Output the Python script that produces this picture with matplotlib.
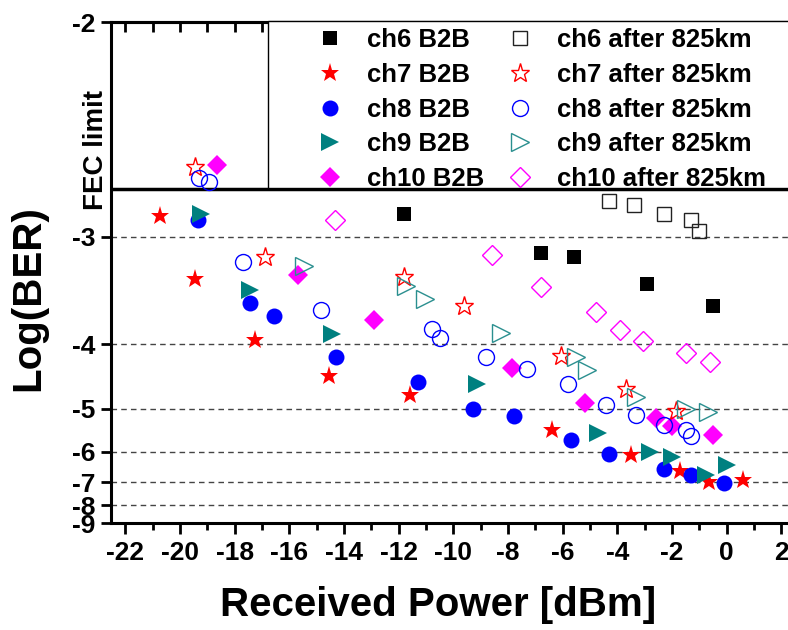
import numpy as np
import matplotlib
matplotlib.use('Agg')
import matplotlib.pyplot as plt
from matplotlib.patches import Rectangle
from matplotlib.ticker import NullLocator

plt.rcParams['font.family'] = ['Liberation Sans', 'DejaVu Sans']
plt.rcParams['font.weight'] = 'bold'
plt.rcParams['axes.unicode_minus'] = False

# received power [dBm] and log(BER)
ch6_b2b_x = [-11.8, -6.8, -5.6, -2.9, -0.5]
ch6_b2b_y = [-2.85, -3.12, -3.15, -3.37, -3.58]
ch6_fib_x = [-4.3, -3.4, -2.3, -1.3, -1.0]
ch6_fib_y = [-2.77, -2.79, -2.85, -2.89, -2.96]

ch7_b2b_x = [-20.75, -19.45, -17.25, -14.55, -11.6, -6.4, -3.5, -1.7, -0.65, 0.6]
ch7_b2b_y = [-2.86, -3.33, -3.95, -4.43, -4.75, -5.44, -6.1, -6.6, -6.99, -6.9]
ch7_fib_x = [-19.45, -16.9, -11.8, -9.6, -6.05, -3.7, -1.85]
ch7_fib_y = [-2.58, -3.15, -3.31, -3.58, -4.15, -4.65, -5.05]

ch8_b2b_x = [-19.35, -17.45, -16.55, -14.3, -11.3, -9.3, -7.8, -5.7, -4.3, -2.3, -1.3, -0.1]
ch8_b2b_y = [-2.89, -3.55, -3.68, -4.17, -4.53, -5.0, -5.15, -5.7, -6.06, -6.52, -6.74, -7.01]
ch8_fib_x = [-19.3, -18.95, -17.7, -14.85, -10.8, -10.5, -8.8, -7.3, -5.8, -4.4, -3.3,
             -2.3, -1.5, -1.3]
ch8_fib_y = [-2.64, -2.66, -3.19, -3.62, -3.82, -3.92, -4.16, -4.33, -4.57, -4.92, -5.13,
             -5.34, -5.44, -5.6]

ch9_b2b_x = [-19.25, -17.45, -14.45, -9.15, -4.7, -2.8, -2.0, -0.75, 0.0]
ch9_b2b_y = [-2.85, -3.42, -3.88, -4.57, -5.52, -6.01, -6.15, -6.74, -6.41]
ch9_fib_x = [-15.45, -11.75, -11.05, -8.25, -5.5, -5.1, -3.3, -1.5, -0.7]
ch9_fib_y = [-3.22, -3.39, -3.51, -3.86, -4.17, -4.35, -4.78, -5.01, -5.07]

ch10_b2b_x = [-18.65, -15.7, -12.9, -7.85, -5.2, -2.6, -2.0, -0.5]
ch10_b2b_y = [-2.57, -3.29, -3.72, -4.32, -4.89, -5.18, -5.37, -5.56]
ch10_fib_x = [-14.35, -8.6, -6.8, -4.8, -3.9, -3.05, -1.5, -0.6]
ch10_fib_y = [-2.89, -3.13, -3.4, -3.64, -3.83, -3.96, -4.11, -4.23]

fec_limit = np.log10(2e-3)

channels = ['ch6', 'ch7', 'ch8', 'ch9', 'ch10']
b2b = [(ch6_b2b_x, ch6_b2b_y), (ch7_b2b_x, ch7_b2b_y), (ch8_b2b_x, ch8_b2b_y),
       (ch9_b2b_x, ch9_b2b_y), (ch10_b2b_x, ch10_b2b_y)]
fib = [(ch6_fib_x, ch6_fib_y), (ch7_fib_x, ch7_fib_y), (ch8_fib_x, ch8_fib_y),
       (ch9_fib_x, ch9_fib_y), (ch10_fib_x, ch10_fib_y)]
markers = ['s', '*', 'o', '>', 'D']
sizes = [10, 14, 11.5, 13, 10]
colors = ['black', 'red', 'blue', '#008080', 'magenta']
open_colors = ['#222222', 'red', 'blue', '#2a8f8f', 'magenta']


def fwd(y):
    y = np.asarray(y, dtype=float)
    with np.errstate(divide='ignore', invalid='ignore'):
        return -1.0 / y


def inv(t):
    t = np.asarray(t, dtype=float)
    with np.errstate(divide='ignore', invalid='ignore'):
        return -1.0 / t


W, H = 788, 630
fig = plt.figure(figsize=(W / 100, H / 100), dpi=100)
ax = fig.add_axes([110.7 / W, 1 - 523.3 / H, (795 - 110.7) / W, (523.3 - 22) / H])

ax.set_yscale('function', functions=(fwd, inv))
ax.set_ylim(-9, -2)
ax.set_xlim(-22.54, 2.5)

handles_b2b, handles_fib = [], []
for i, ch in enumerate(channels):
    h, = ax.plot(b2b[i][0], b2b[i][1], ls='none', marker=markers[i], ms=sizes[i],
                 color=colors[i], mew=0, zorder=3, clip_on=False)
    handles_b2b.append(h)
for i, ch in enumerate(channels):
    h, = ax.plot(fib[i][0], fib[i][1], ls='none', marker=markers[i], ms=sizes[i],
                 mfc='none', mec=open_colors[i], mew=1.0, zorder=3, clip_on=False)
    handles_fib.append(h)

ax.axhline(fec_limit, color='black', lw=2.5, zorder=2)

# grid + ticks
ax.grid(axis='y', ls=(0, (4, 3)), color='#444444', lw=1)
ax.set_yticks(range(-9, -1))
ax.set_yticklabels([str(v) for v in range(-9, -1)])
ax.yaxis.set_minor_locator(NullLocator())
ax.set_xticks(range(-22, 3, 2))
ax.set_xticks(range(-21, 3, 2), minor=True)

for s in ax.spines.values():
    s.set_linewidth(2.2)
ax.tick_params(axis='x', which='major', direction='out', length=8, width=2, pad=5, labelsize=19)
ax.tick_params(axis='x', which='minor', direction='out', length=5, width=2)
ax.tick_params(axis='y', which='major', direction='out', length=7, width=2, pad=4, labelsize=19)

top = ax.secondary_xaxis('top')
top.set_xticks(range(-22, 3, 2))
top.set_xticks(range(-21, 3, 2), minor=True)
top.tick_params(axis='x', which='both', direction='in', length=7, width=2, labeltop=False)
top.spines['top'].set_linewidth(2.2)

ax.set_xlabel('Received Power [dBm]', fontsize=29, fontweight='bold')
ax.set_ylabel('Log(BER)', fontsize=29, fontweight='bold')
ax.xaxis.set_label_coords(0.478, -0.125)
ax.yaxis.set_label_coords(-0.092, 0.45)

ax.text(-0.022, 0.745, 'FEC limit', rotation=90, ha='center', va='center',
        transform=ax.transAxes, fontsize=20, fontweight='bold')

# legend frame
fig.add_artist(Rectangle((268 / W, 1 - 187.5 / H), (800 - 268) / W, (187.5 - 20.7) / H,
                         transform=fig.transFigure, facecolor='white', edgecolor='black',
                         lw=1, zorder=1))
labels = [c + ' B2B' for c in channels] + [c + ' after 825km' for c in channels]
fig.legend(handles_b2b + handles_fib, labels, ncol=2, loc='upper left',
           bbox_to_anchor=(313 / W, 1 - 28 / H), bbox_transform=fig.transFigure,
           frameon=False, fontsize=18.5, borderpad=0, borderaxespad=0, numpoints=1,
           handlelength=1.3, handletextpad=0.8, columnspacing=0.75, labelspacing=0.42)

fig.savefig('out.png', dpi=100)
